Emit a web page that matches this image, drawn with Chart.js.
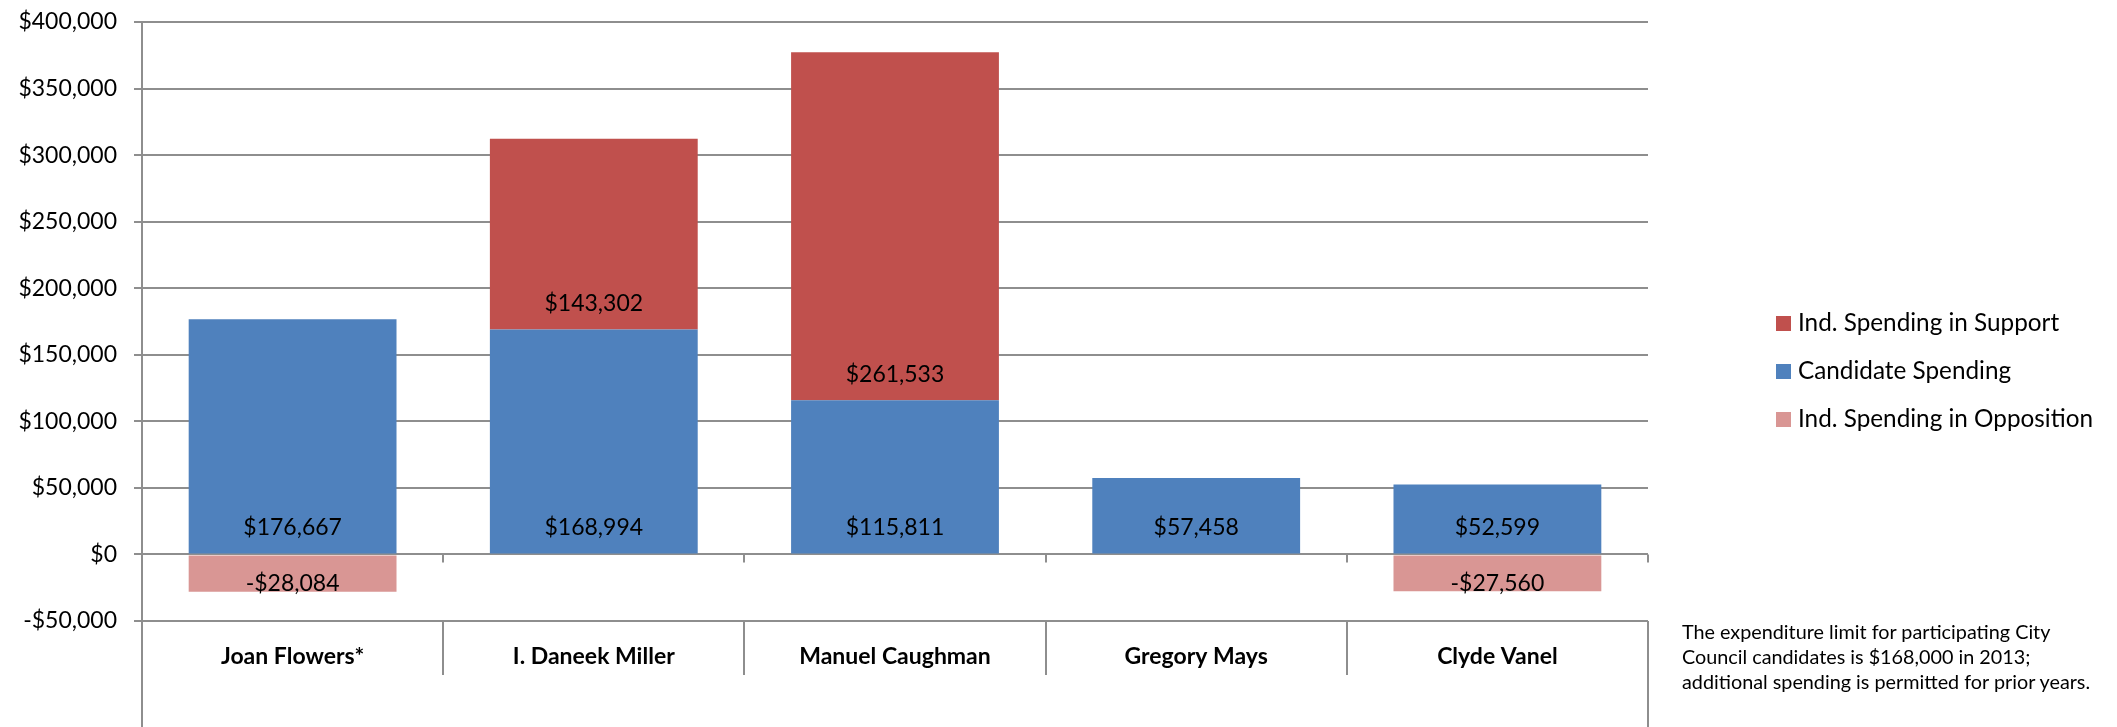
<!DOCTYPE html>
<html>
<head>
<meta charset="utf-8">
<script src="https://cdn.jsdelivr.net/npm/chart.js@4/dist/chart.umd.min.js"></script>
<style>
  html, body { margin: 0; padding: 0; background: #fff; }
  #wrap { position: relative; width: 2117px; height: 727px; }
  #note {
    position: absolute; left: 1682px; top: 619px;
    font: 19.8px Lato, sans-serif; line-height: 25px; color: #000; white-space: nowrap;
  }
</style>
</head>
<body>
<div id="wrap">
  <canvas id="spendChart"></canvas>
  <div id="note">The expenditure limit for participating City<br>Council candidates is $168,000 in 2013;<br>additional spending is permitted for prior years.</div>
</div>
<script>
// values
const candidates = ["Joan Flowers*", "I. Daneek Miller", "Manuel Caughman", "Gregory Mays", "Clyde Vanel"];
const candidateSpending = [176667, 168994, 115811, 57458, 52599];
const supportSpending = [null, 143302, 261533, null, null];
const oppositionSpending = [-28084, null, null, null, -27560];
const yMin = -50000, yMax = 400000, yStep = 50000;

const gridColor = "#8e8e8e";
const fontFam = "Lato, sans-serif";

function money(v) {
  const s = "$" + Math.abs(v).toLocaleString("en-US");
  return v < 0 ? "-" + s : s;
}

// labels inside the bars, near the base (end for the negative bars)
const barLabels = {
  id: "barLabels",
  afterDatasetsDraw(chart) {
    const ctx = chart.ctx;
    ctx.save();
    ctx.font = "23px " + fontFam;
    ctx.fillStyle = "#000";
    ctx.textAlign = "center";
    ctx.textBaseline = "middle";
    chart.data.datasets.forEach((ds, di) => {
      chart.getDatasetMeta(di).data.forEach((bar, i) => {
        const v = ds.data[i];
        if (v == null) return;
        const y = v < 0 ? bar.y - 8 : bar.base - 26;
        ctx.fillText(money(v), bar.x, y);
      });
    });
    ctx.restore();
  }
};

// axis extensions, category dividers and the legend
const extras = {
  id: "extras",
  afterDraw(chart) {
    const ctx = chart.ctx;
    const a = chart.chartArea;
    const y0 = chart.scales.y.getPixelForValue(0);
    const n = candidates.length;
    const w = (a.right - a.left) / n;
    ctx.save();
    ctx.strokeStyle = gridColor;
    ctx.lineWidth = 2;
    ctx.beginPath();
    ctx.moveTo(a.left, a.bottom);
    ctx.lineTo(a.left, chart.height);
    ctx.moveTo(a.right, a.bottom);
    ctx.lineTo(a.right, chart.height);
    for (let i = 1; i <= n; i++) {
      const x = Math.round(a.left + i * w);
      ctx.moveTo(x, y0);
      ctx.lineTo(x, y0 + 8);
      if (i < n) {
        ctx.moveTo(x, a.bottom);
        ctx.lineTo(x, a.bottom + 54);
      }
    }
    ctx.stroke();

    // legend (Excel lists stacked series top-down)
    const order = [1, 0, 2];
    ctx.font = "24.3px " + fontFam;
    ctx.textBaseline = "middle";
    ctx.textAlign = "left";
    order.forEach((di, k) => {
      const ds = chart.data.datasets[di];
      const cy = 323 + k * 48;
      ctx.fillStyle = ds.backgroundColor;
      ctx.fillRect(1776, cy - 7, 15, 15);
      ctx.fillStyle = "#000";
      ctx.fillText(ds.label, 1798, cy);
    });
    ctx.restore();
  }
};

new Chart(document.getElementById("spendChart"), {
  type: "bar",
  data: {
    labels: candidates,
    datasets: [
      { label: "Candidate Spending", data: candidateSpending, backgroundColor: "#4f81bd" },
      { label: "Ind. Spending in Support", data: supportSpending, backgroundColor: "#c0504d" },
      { label: "Ind. Spending in Opposition", data: oppositionSpending, backgroundColor: "#d99694" }
    ]
  },
  options: {
    responsive: true,
    maintainAspectRatio: false,
    animation: false,
    barPercentage: 0.69,
    categoryPercentage: 1.0,
    layout: { padding: { left: 0, right: 469, top: 22, bottom: 0 } },
    plugins: {
      legend: { display: false },
      tooltip: { enabled: false }
    },
    scales: {
      x: {
        stacked: true,
        grid: { display: false, drawTicks: false },
        border: { display: false },
        ticks: {
          color: "#000",
          font: { family: fontFam, size: 23, weight: "bold" },
          padding: 22,
          maxRotation: 0,
          autoSkip: false
        },
        afterFit(s) { s.height = 106; }
      },
      y: {
        stacked: true,
        min: yMin,
        max: yMax,
        grid: { color: gridColor, lineWidth: 2, tickLength: 8 },
        border: { display: true, color: gridColor, width: 2 },
        ticks: {
          stepSize: yStep,
          color: "#000",
          padding: 17,
          font: { family: fontFam, size: 23 },
          callback: v => money(v)
        },
        afterFit(s) {
          s.width = 142;
          // let layout.padding alone decide where the plot area starts
          s.paddingTop = 0;
          s.paddingBottom = 0;
        }
      }
    }
  },
  plugins: [barLabels, extras]
});
</script>
</body>
</html>
